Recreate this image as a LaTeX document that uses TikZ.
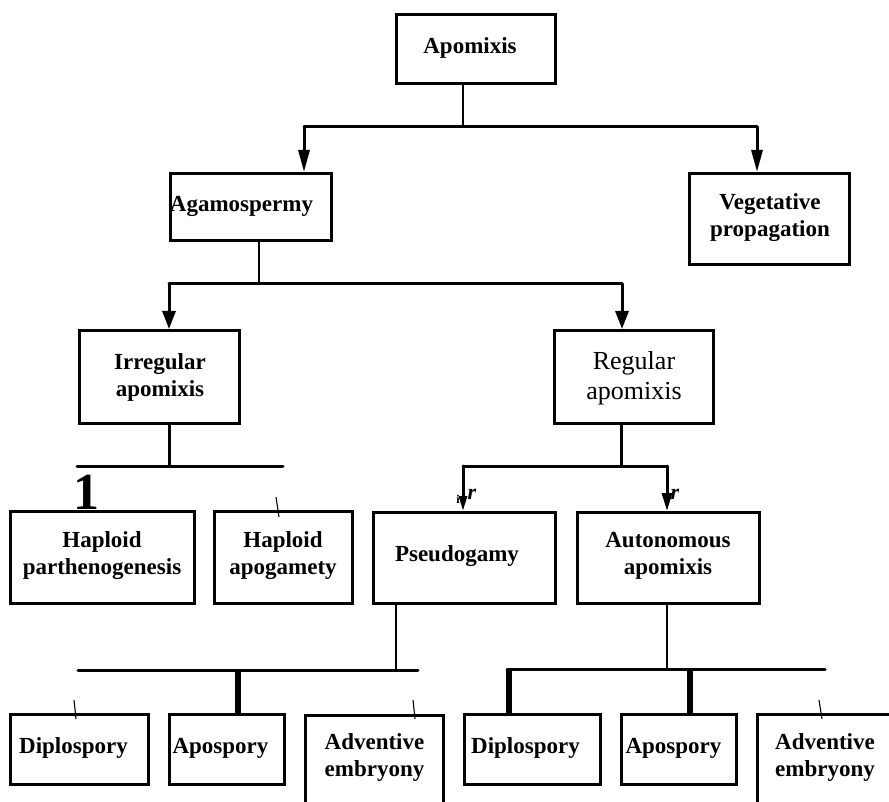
\documentclass[tikz,border=0pt]{standalone}
\usepackage{fontspec}
\setmainfont{Liberation Serif}
\usetikzlibrary{arrows.meta}
\tikzset{
  box/.style={draw, line width=3.4pt, inner sep=0pt, anchor=north west},
  lbl/.style={align=center, inner sep=0pt, font=\fontsize{23}{27}\selectfont\bfseries},
  rlbl/.style={align=center, inner sep=0pt, font=\fontsize{26}{30}\selectfont},
  conn/.style={line width=3pt, line cap=round},
  thinconn/.style={line width=2pt},
  thick I/.style={line width=6.5pt},
  tickmark/.style={line width=1.1pt},
  arrA/.style={-{Triangle[length=22pt,width=11pt]}},
  arrB/.style={-{Triangle[length=18pt,width=13pt]}},
  arrC/.style={-{Triangle[length=15pt,width=8pt]}},
  arrD/.style={-{Triangle[length=18pt,width=10pt]}},
}
\begin{document}
\begin{tikzpicture}[x=1pt,y=-1pt]
\useasboundingbox (0,0) rectangle (889,802);
\clip (0,0) rectangle (889,802);
% boxes
\node[box, minimum width=159pt, minimum height=69pt] (apo) at (395,13) {};
\node[box, minimum width=161pt, minimum height=67pt] (agam) at (169,172) {};
\node[box, minimum width=160pt, minimum height=91pt] (veg) at (688,172) {};
\node[box, minimum width=160pt, minimum height=93pt] (irr) at (78,329) {};
\node[box, minimum width=159pt, minimum height=93pt] (reg) at (553,329) {};
\node[box, minimum width=184pt, minimum height=92pt] (hpar) at (9,510) {};
\node[box, minimum width=138pt, minimum height=92pt] (hapo) at (213,510) {};
\node[box, minimum width=182pt, minimum height=91pt] (pseu) at (372,511) {};
\node[box, minimum width=182pt, minimum height=91pt] (auto) at (576,511) {};
\node[box, minimum width=138pt, minimum height=70pt] (dipA) at (9,713) {};
\node[box, minimum width=115pt, minimum height=70pt] (aposA) at (168,713) {};
\node[box, minimum width=138pt, minimum height=116pt] (advA) at (304,714) {};
\node[box, minimum width=136pt, minimum height=70pt] (dipB) at (463,713) {};
\node[box, minimum width=115pt, minimum height=70pt] (aposB) at (620,713) {};
\node[box, minimum width=144pt, minimum height=117pt] (advB) at (756,713) {};
% labels
\node[lbl] (apoT) at (470,48) {Apomixis};
\node[lbl] (agamT) at (241.5,206) {Agamospermy};
\node[lbl] (vegT) at (770,218) {Vegetative\\propagation};
\node[lbl] (irrT) at (160,377) {Irregular\\apomixis};
\node[rlbl] (regT) at (634,378) {Regular\\apomixis};
\node[lbl] (hparT) at (102,556) {Haploid\\parthenogenesis};
\node[lbl] (hapoT) at (283,556) {Haploid\\apogamety};
\node[lbl] (pseuT) at (457,556) {Pseudogamy};
\node[lbl] (autoT) at (668,556) {Autonomous\\apomixis};
\node[lbl] (dipAT) at (73.5,748) {Diplospory};
\node[lbl] (aposAT) at (220.5,748) {Apospory};
\node[lbl] (advAT) at (374.5,757) {Adventive\\embryony};
\node[lbl] (dipBT) at (525.5,748) {Diplospory};
\node[lbl] (aposBT) at (673.5,748) {Apospory};
\node[lbl] (advBT) at (825,757) {Adventive\\embryony};
% junction coordinates
\coordinate (j1) at (463,127);
\coordinate (b1L) at (304,127);
\coordinate (b1R) at (757,127);
\coordinate (j2) at (259,284);
\coordinate (b2L) at (169,284);
\coordinate (b2R) at (622,284);
\coordinate (j3) at (169,466);
\coordinate (b3L) at (77,466);
\coordinate (b3R) at (283,466);
\coordinate (j4) at (621,466);
\coordinate (b4L) at (463,466);
\coordinate (b4R) at (667,466);
\coordinate (j5) at (396,670);
\coordinate (b5L) at (78,670);
\coordinate (b5R) at (418,670);
\coordinate (k5) at (238,670);
\coordinate (j6) at (667,669);
\coordinate (b6L) at (507,669);
\coordinate (b6R) at (825,669);
\coordinate (k6a) at (509,669);
\coordinate (k6b) at (690,669);
% level 1
\draw[thinconn] (apo.south -| j1) -- (j1);
\draw[conn] (b1L) -- (b1R);
\draw[conn, arrA] (b1L) -- (agam.north -| b1L);
\draw[conn, arrA] (b1R) -- (veg.north -| b1R);
% level 2
\draw[thinconn] (agam.south -| j2) -- (j2);
\draw[conn] (b2L) -- (b2R);
\draw[conn, arrB] (b2L) -- (irr.north -| b2L);
\draw[conn, arrB] (b2R) -- (reg.north -| b2R);
% irregular
\draw[conn] (irr.south -| j3) -- (j3);
\draw[conn] (b3L) -- (b3R);
\node[inner sep=0pt, anchor=base, font=\fontsize{52}{52}\selectfont\bfseries] (one) at (86,509) {1};
\coordinate (t1a) at (276,497);
\coordinate (t1b) at (279,517);
\draw[tickmark] (t1a) -- (t1b);
% regular
\draw[conn] (reg.south -| j4) -- (j4);
\draw[conn] (b4L) -- (b4R);
\draw[conn, arrC] (b4L) -- (pseu.north -| b4L);
\draw[conn, arrD] (b4R) -- (auto.north -| b4R);
\node[inner sep=0pt, font=\fontsize{12}{12}\selectfont\bfseries] (iA) at (458,499) {i};
\node[inner sep=0pt, font=\fontsize{22}{22}\selectfont\bfseries\itshape] (rA) at (472,494) {r};
\node[inner sep=0pt, font=\fontsize{22}{22}\selectfont\bfseries\itshape] (rB) at (675,494) {r};
% pseudogamy
\draw[thinconn] (pseu.south -| j5) -- (j5);
\draw[conn] (b5L) -- (b5R);
\draw[thick I] (k5) -- (aposA.north -| k5);
\coordinate (t2a) at (74,700);
\coordinate (t2b) at (76,719);
\draw[tickmark] (t2a) -- (t2b);
\coordinate (t3a) at (413,700);
\coordinate (t3b) at (415,719);
\draw[tickmark] (t3a) -- (t3b);
% autonomous
\draw[thinconn] (auto.south -| j6) -- (j6);
\draw[conn] (b6L) -- (b6R);
\draw[thick I] (k6a) -- (dipB.north -| k6a);
\draw[thick I] (k6b) -- (aposB.north -| k6b);
\coordinate (t4a) at (819,700);
\coordinate (t4b) at (822,719);
\draw[tickmark] (t4a) -- (t4b);
\end{tikzpicture}
\end{document}
